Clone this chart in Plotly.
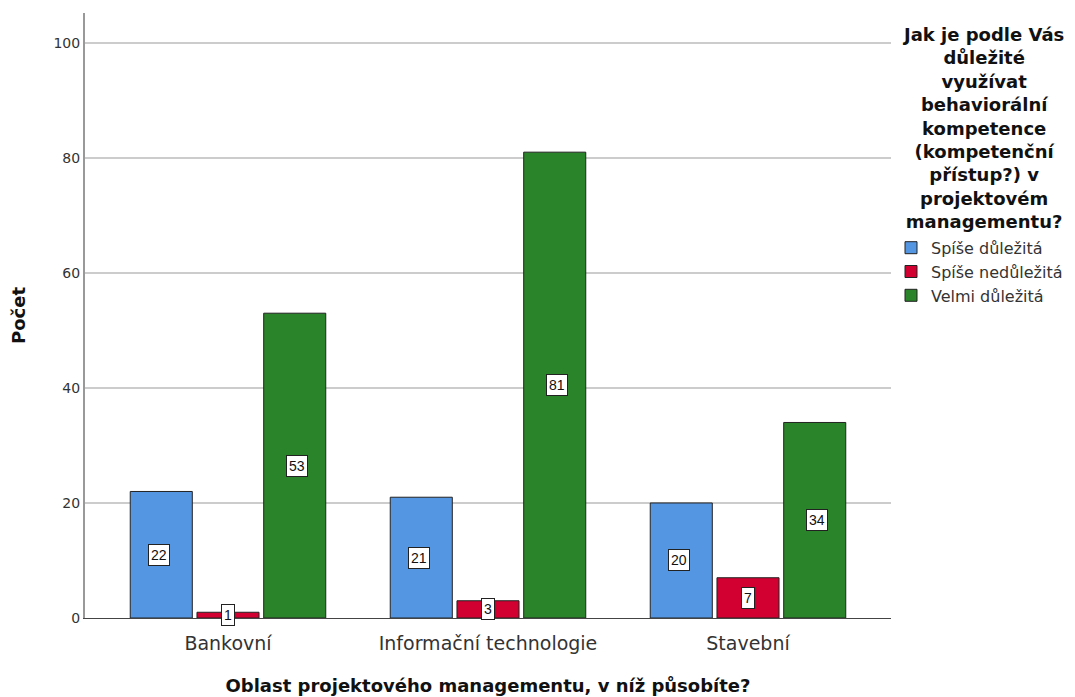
import plotly.graph_objects as go

# data
oblasti = ['Bankovní', 'Informační technologie', 'Stavební']
odpovedi = ['Spíše důležitá', 'Spíše nedůležitá', 'Velmi důležitá']
spise_dulezita = [22, 21, 20]
spise_nedulezita = [1, 3, 7]
velmi_dulezita = [53, 81, 34]
barvy = ['#5596e3', '#d20031', '#2a8429']

hodnoty = [spise_dulezita, spise_nedulezita, velmi_dulezita]
FONT = 'DejaVu Sans'

fig = go.Figure()
for name, vals, col in zip(odpovedi, hodnoty, barvy):
    fig.add_trace(go.Bar(x=oblasti, y=vals, name=name,
                         marker=dict(color=col, line=dict(color='#222222', width=1))))

# value boxes in the middle of each bar
shifts = [-69, 0, 69]
for vals, sh in zip(hodnoty, shifts):
    for cat, v in zip(oblasti, vals):
        fig.add_annotation(x=cat, y=v / 2, xref='x', yref='y', xshift=sh,
                           text=str(v), showarrow=False,
                           font=dict(family='Liberation Sans', size=14, color='#111111'),
                           bgcolor='white', bordercolor='#222222', borderwidth=1, borderpad=2)

legend_title = ('Jak je podle Vás<br>důležité<br>využívat<br>behaviorální<br>kompetence<br>'
                '(kompetenční<br>přístup?) v<br>projektovém<br>managementu?')
fig.add_annotation(x=1.114, y=0.985, xref='paper', yref='paper',
                   text='<b>' + legend_title + '</b>', showarrow=False,
                   xanchor='center', yanchor='top', align='center',
                   font=dict(family=FONT, size=18, color='#111111'))

# the page body adds an 8px margin, margins below allow for it
fig.update_layout(
    width=1075, height=697,
    paper_bgcolor='white', plot_bgcolor='white',
    margin=dict(l=77, r=192, t=5, b=87),
    barmode='group', bargap=0.23, bargroupgap=0.07,
    font=dict(family=FONT, color='#222222'),
    legend=dict(x=1.0, y=0.64, xanchor='left', yanchor='top',
                font=dict(size=16, color='#333333'), tracegroupgap=0,
                itemwidth=30),
    xaxis=dict(range=[-0.55, 2.55], showline=True, linecolor='#444444', linewidth=1,
               ticks='outside', ticklen=8, tickcolor='rgba(0,0,0,0)',
               tickfont=dict(size=19, color='#333333'),
               title=dict(text='<b>Oblast projektového managementu, v níž působíte?</b>',
                          font=dict(size=18, color='#111111'), standoff=26)),
    yaxis=dict(range=[0, 105.2], tickvals=[0, 20, 40, 60, 80, 100],
               showline=True, linecolor='#999999', linewidth=2,
               showgrid=True, gridcolor='#cccccc', gridwidth=1.5, zeroline=False,
               ticks='', tickfont=dict(size=14, color='#333333'),
               title=dict(text='<b>Počet</b>', font=dict(size=18, color='#111111'), standoff=27)),
)

fig.write_html('out.html')
